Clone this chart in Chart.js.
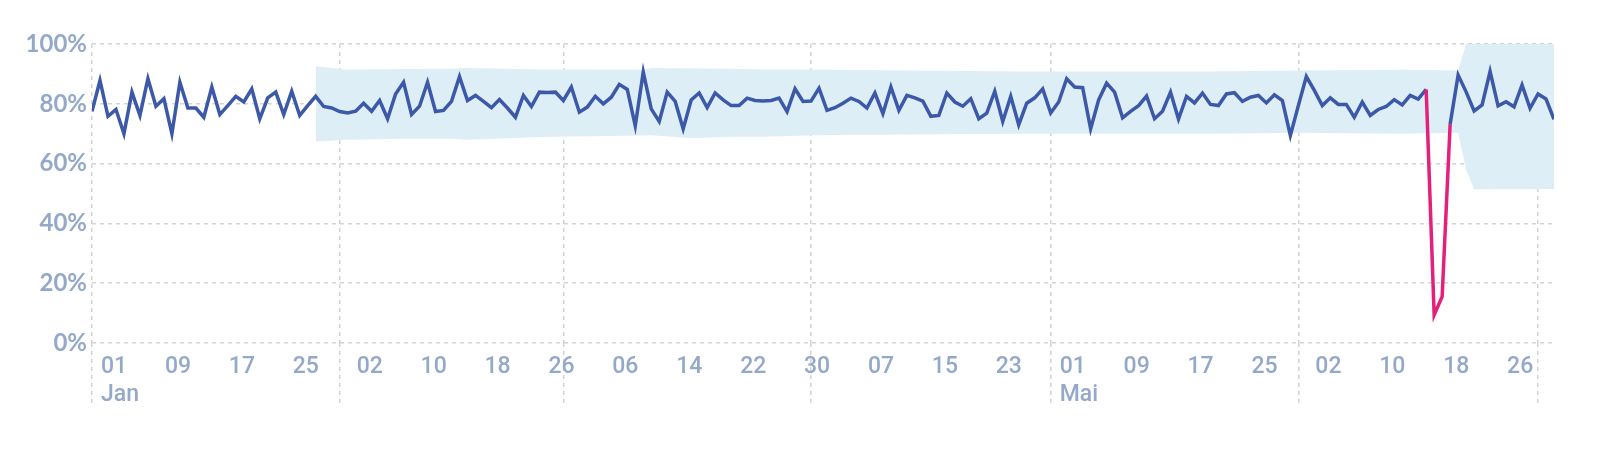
<!DOCTYPE html>
<html>
<head>
<meta charset="utf-8">
<script src="https://cdn.jsdelivr.net/npm/chart.js@4"></script>
<style>
  html, body { margin: 0; padding: 0; background: #fff; }
  #wrap { width: 1598px; height: 458px; position: relative; }
</style>
</head>
<body>
<div id="wrap"><canvas id="chart"></canvas></div>
<script>
// daily values, day 0 = 01 Jan
const values = [
  77.5, 87.8, 75.8, 78.1, 70, 83.9, 76.1, 88.4, 79.2, 81.7,
  70, 87.2, 78.6, 78.6, 75.5, 85.6, 76.4, 79.4, 82.5, 80.6,
  85, 75, 82, 83.9, 76.4, 84.2, 76.1, 79.4, 82.5, 79.1,
  78.6, 77.4, 76.9, 77.5, 80.2, 77.5, 81.1, 75, 83.3, 87.2,
  76.4, 79.2, 87.2, 77.4, 77.8, 80.8, 89.1, 81.1, 82.8, 80.8,
  78.7, 81.4, 78.6, 75.5, 82.8, 79.1, 83.9, 83.8, 83.9, 81.1,
  85.6, 77.2, 78.9, 82.5, 80, 82.2, 86.5, 84.8, 72.6, 90.6,
  78.3, 74.1, 83.9, 80.8, 71.6, 81.3, 83.6, 78.7, 83.6, 81.3,
  79.4, 79.4, 81.9, 81.1, 80.9, 81.1, 81.9, 77.4, 85, 80.8,
  80.9, 85.2, 77.8, 78.7, 80.2, 81.9, 80.8, 78.6, 83.6, 76.7,
  85.6, 77.8, 82.8, 82, 80.9, 75.8, 76.1, 83.6, 80.6, 79.2,
  81.7, 75, 76.9, 84.2, 74.1, 82.5, 73, 80.2, 82, 85,
  76.9, 80.6, 88.4, 85.6, 85.4, 71.6, 81.3, 86.9, 83.9, 75.3,
  77.5, 79.4, 82.6, 75, 77.5, 83.9, 74.9, 82.5, 80.3, 83.6,
  79.8, 79.4, 83.3, 83.7, 80.8, 82.2, 82.8, 80.3, 83, 81.1,
  69.4, 79.4, 89.1, 84.5, 79.4, 82, 79.8, 79.8, 75.5, 80.6,
  76.1, 78.1, 79.1, 81.4, 79.6, 82.8, 81.6, 84.8, 9.4, 15.5,
  73.2, 89.6, 84, 77.6, 79.6, 90.8, 79.3, 80.7, 79, 86.3,
  78.5, 83.3, 81.6, 74.8
];
// days that are flagged (drawn pink)
const anomalyDays = [168, 169];

// expected range band
const bandDays  = [28, 32, 39, 45, 47, 56, 69, 70, 75, 80, 84, 92, 116, 140, 151, 164, 171, 172, 173, 183];
const bandUpper = [92.6, 91.4, 91.6, 91.7, 92, 91.5, 91.4, 92, 91.8, 91.7, 91.5, 91.4, 90.8, 90.8, 91.1, 91.4, 91.1, 100, 100, 100];
const bandLower = [67.4, 68, 68.3, 68.3, 68, 68.9, 69.4, 69.5, 68.5, 69, 69, 69.6, 70, 70, 70.3, 70, 70.3, 57.9, 51.4, 51.5];

// x axis
const labelDays = [0, 8, 16, 24, 32, 40, 48, 56, 64, 72, 80, 88, 96, 104, 112, 120, 128, 136, 144, 152, 160, 168, 176];
const labelTexts = ['01','09','17','25','02','10','18','26','06','14','22','30','07','15','23','01','09','17','25','02','10','18','26'];
const monthDays = [0, 31, 59, 90, 120, 151, 181];
const monthLabelDays = [0, 120];
const monthLabels = ['Jan', 'Mai'];

const yTicks = [0, 20, 40, 60, 80, 100];

const BLUE = '#3c58a8';
const PINK = '#e3207b';
const BAND = 'rgb(222,238,246)';
const GRID = '#d4d4d4';
const TICK = '#94a9c9';

const linePts = values.map((v, i) => ({ x: i, y: v }));
const upperPts = bandDays.map((d, i) => ({ x: d, y: bandUpper[i] }));
const lowerPts = bandDays.map((d, i) => ({ x: d, y: bandLower[i] }));

const allTicks = [...new Set([...labelDays, ...monthDays])].sort((a, b) => a - b);
const isAnom = i => anomalyDays.includes(i);

new Chart(document.getElementById('chart'), {
  type: 'line',
  data: {
    datasets: [
      {
        data: linePts, borderColor: BLUE, borderWidth: 3.5, pointRadius: 0, tension: 0, fill: false,
        segment: { borderColor: c => (isAnom(c.p0DataIndex) || isAnom(c.p1DataIndex)) ? PINK : undefined }
      },
      { data: upperPts, borderWidth: 0, borderColor: 'transparent', pointRadius: 0, tension: 0, backgroundColor: BAND, fill: '+1' },
      { data: lowerPts, borderWidth: 0, borderColor: 'transparent', pointRadius: 0, tension: 0, fill: false }
    ]
  },
  options: {
    responsive: true, maintainAspectRatio: false, animation: false,
    layout: { padding: { left: 0, top: 44, right: 44, bottom: 0 } },
    plugins: { legend: { display: false }, tooltip: { enabled: false } },
    scales: {
      x: {
        type: 'linear', min: 0, max: values.length - 1,
        afterBuildTicks: axis => { axis.ticks = allTicks.map(v => ({ value: v })); },
        afterFit: s => { s.height = 115; },
        border: { display: false, dash: [4, 4] },
        grid: {
          color: c => (c.tick && monthDays.includes(c.tick.value)) ? GRID : 'transparent',
          lineWidth: 1.5, tickLength: 64, tickBorderDash: [4, 4]
        },
        ticks: {
          autoSkip: false, maxRotation: 0, align: 'start', labelOffset: 9, padding: -54.5,
          color: TICK, font: { family: 'Roboto', size: 23, weight: 500, lineHeight: 1.24 },
          callback: v => {
            const i = labelDays.indexOf(v);
            if (i < 0) return '';
            const m = monthLabelDays.indexOf(v);
            return m < 0 ? labelTexts[i] : [labelTexts[i], monthLabels[m]];
          }
        }
      },
      y: {
        min: 0, max: 100,
        afterBuildTicks: axis => { axis.ticks = yTicks.map(v => ({ value: v })); },
        afterFit: s => { s.width = 92; },
        border: { display: false, dash: [4, 4] },
        grid: { color: GRID, lineWidth: 1.5, drawTicks: false },
        ticks: {
          padding: 5, color: TICK, font: { family: 'Lato', size: 24, weight: 'bold' },
          callback: v => v + '%'
        }
      }
    }
  }
});
</script>
</body>
</html>
